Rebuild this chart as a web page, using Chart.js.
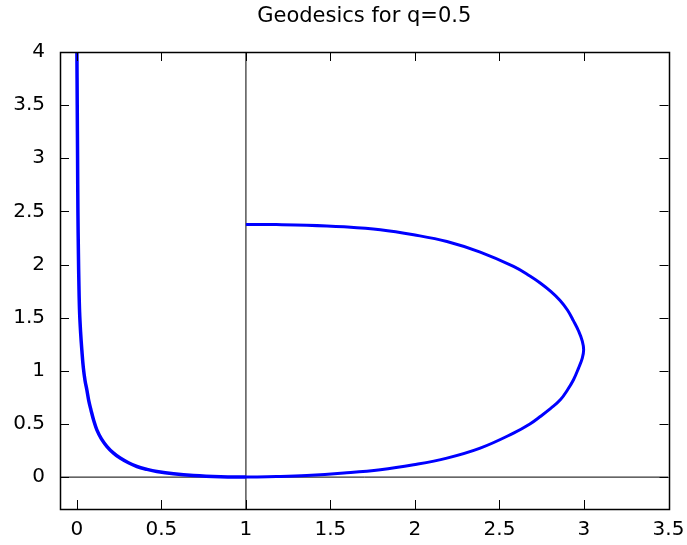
<!DOCTYPE html>
<html>
<head>
<meta charset="utf-8">
<script src="https://cdn.jsdelivr.net/npm/chart.js@4/dist/chart.umd.min.js"></script>
<style>
    html, body { margin: 0; padding: 0; background: #fff; }
    #wrap { width: 687px; height: 545px; }
</style>
</head>
<body>
<div id="wrap"><canvas id="geoChart"></canvas></div>
<script>
    // left branch, from the top down to (1, 0)
    var branchX = [0.000, 0.002, 0.004, 0.006, 0.009, 0.012, 0.016, 0.022, 0.029, 0.038, 0.048, 0.059, 0.070, 0.083, 0.100, 0.118, 0.145, 0.178, 0.215, 0.256, 0.305, 0.355, 0.415, 0.473, 0.572, 0.690, 0.850, 1.000];
    var branchY = [4.000, 3.500, 3.000, 2.500, 2.100, 1.800, 1.550, 1.360, 1.200, 1.030, 0.910, 0.820, 0.720, 0.633, 0.530, 0.445, 0.360, 0.288, 0.228, 0.179, 0.135, 0.100, 0.073, 0.053, 0.031, 0.015, 0.004, 0.000];

    // loop, from (1, 0) round to the end point on x = 1
    var loopX = [1.000, 1.180, 1.360, 1.580, 1.795, 1.992, 2.189, 2.386, 2.583, 2.680, 2.741, 2.805, 2.860, 2.903, 2.938, 2.968, 2.990, 2.998, 2.990, 2.968, 2.938, 2.903, 2.860, 2.805, 2.741, 2.680, 2.583, 2.386, 2.189, 1.992, 1.795, 1.580, 1.360, 1.180, 1.000];
    var loopY = [0.000, 0.005, 0.015, 0.038, 0.069, 0.116, 0.179, 0.273, 0.414, 0.500, 0.570, 0.649, 0.727, 0.822, 0.916, 1.026, 1.120, 1.198, 1.280, 1.375, 1.470, 1.570, 1.660, 1.745, 1.826, 1.892, 1.982, 2.117, 2.217, 2.280, 2.327, 2.355, 2.371, 2.376, 2.377];

    var xRange = [-0.1, 3.5];
    var yRange = [-0.3, 4];
    var xTicks = [0, 0.5, 1, 1.5, 2, 2.5, 3, 3.5];
    var yTicks = [0, 0.5, 1, 1.5, 2, 2.5, 3, 3.5, 4];

    var FONT = "'DejaVu Sans', sans-serif";

    function toPoints(xs, ys) {
        return xs.map(function (x, i) { return { x: x, y: ys[i] }; });
    }

    // gnuplot style frame: box all round, ticks pointing inwards on every side
    var frameTicks = {
        id: 'frameTicks',
        afterDraw: function (chart) {
            var ctx = chart.ctx;
            var a = chart.chartArea;
            var xs = chart.scales.x, ys = chart.scales.y;
            var len = 9;
            ctx.save();
            ctx.strokeStyle = '#000';
            ctx.lineWidth = 1;
            ctx.beginPath();
            xTicks.forEach(function (v) {
                var px = Math.round(xs.getPixelForValue(v)) + 0.5;
                ctx.moveTo(px, a.bottom); ctx.lineTo(px, a.bottom - len);
                ctx.moveTo(px, a.top); ctx.lineTo(px, a.top + len);
            });
            yTicks.forEach(function (v) {
                var py = Math.round(ys.getPixelForValue(v)) + 0.5;
                ctx.moveTo(a.left, py); ctx.lineTo(a.left + len, py);
                ctx.moveTo(a.right, py); ctx.lineTo(a.right - len, py);
            });
            ctx.stroke();
            ctx.lineWidth = 1.5;
            ctx.strokeRect(Math.round(a.left) + 0.5, Math.round(a.top) + 0.5,
                Math.round(a.right - a.left), Math.round(a.bottom - a.top));
            ctx.restore();
        }
    };

    new Chart(document.getElementById('geoChart').getContext('2d'), {
        type: 'scatter',
        data: {
            datasets: [
                { data: toPoints(branchX, branchY), showLine: true, borderColor: '#0000ff', borderWidth: 3.5, pointRadius: 0, tension: 0.4, order: 0 },
                { data: toPoints(loopX, loopY), showLine: true, borderColor: '#0000ff', borderWidth: 3, pointRadius: 0, tension: 0.4, order: 1 },
                // zero axis and the line x = 1
                { data: toPoints(xRange, [0, 0]), showLine: true, borderColor: '#000', borderWidth: 1, pointRadius: 0, order: 2 },
                { data: toPoints([1, 1], yRange), showLine: true, borderColor: '#000', borderWidth: 1, pointRadius: 0, order: 2 }
            ]
        },
        options: {
            responsive: true,
            maintainAspectRatio: false,
            animation: false,
            layout: { padding: { left: 0, right: 18.5, top: 0, bottom: 0 } },
            plugins: {
                legend: { display: false },
                tooltip: { enabled: false },
                title: {
                    display: true,
                    text: 'Geodesics for q=0.5',
                    fullSize: false,
                    color: '#000',
                    font: { family: FONT, size: 21, weight: 'normal', lineHeight: 1.2 },
                    padding: { top: 4, bottom: 22.8 }
                }
            },
            scales: {
                x: {
                    type: 'linear',
                    min: xRange[0],
                    max: xRange[1],
                    grid: { display: false, drawTicks: false },
                    border: { display: false },
                    ticks: {
                        color: '#000',
                        padding: 9,
                        maxRotation: 0,
                        font: { family: FONT, size: 20 },
                        callback: function (v) { return String(v); }
                    },
                    afterBuildTicks: function (axis) {
                        axis.ticks = xTicks.map(function (v) { return { value: v }; });
                    },
                    afterFit: function (axis) {
                        axis.height = 36;
                        axis.paddingLeft = 0;
                        axis.paddingRight = 0;
                    }
                },
                y: {
                    type: 'linear',
                    min: yRange[0],
                    max: yRange[1],
                    grid: { display: false, drawTicks: false },
                    border: { display: false },
                    ticks: {
                        color: '#000',
                        padding: 15,
                        font: { family: FONT, size: 20 },
                        callback: function (v) { return String(v); }
                    },
                    afterBuildTicks: function (axis) {
                        axis.ticks = yTicks.map(function (v) { return { value: v }; });
                    },
                    afterFit: function (axis) { axis.width = 60; }
                }
            }
        },
        plugins: [frameTicks]
    });
</script>
</body>
</html>
